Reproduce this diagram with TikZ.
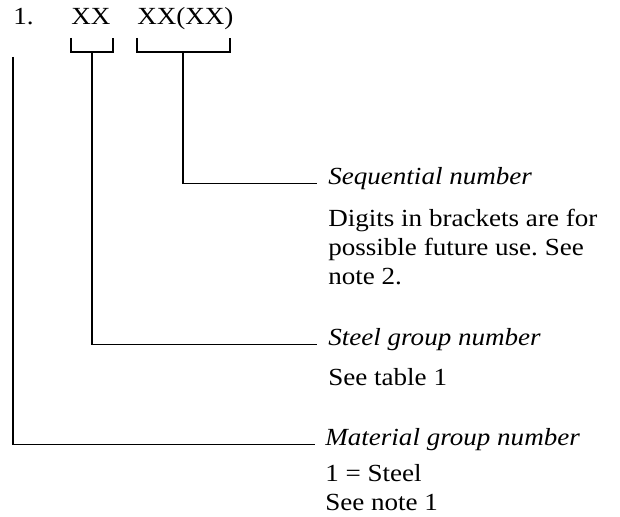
\documentclass[tikz,border=0pt]{standalone}
\usepackage{fontspec}
\setmainfont{Liberation Serif}[FakeStretch=1.1]
\frenchspacing
\newcommand{\codesize}{\fontsize{17.5}{20.6}\selectfont}
\begin{document}
\begin{tikzpicture}[x=0.025cm,y=-0.025cm,
    rule/.style={line width=0.8pt},
    code/.style={anchor=base west,inner sep=0pt,font=\codesize},
    lbl/.style={anchor=base west,inner sep=0pt,font=\codesize\itshape},
    note/.style={anchor=north west,inner sep=0pt,align=left,font=\codesize}]
    \useasboundingbox (0,0) rectangle (620,517);

    \node[code] (one)   at (13,25)  {1.};
    \node[code] (grp)   at (71,25)  {XX};
    \node[code] (seqno) at (137,25) {XX(XX)};

    \draw[rule] (71,38) |- (113,52) -- (113,38);
    \draw[rule] (137,38) |- (230,52) -- (230,38);
    \coordinate (grpstem) at (92,52);
    \coordinate (seqstem) at (183,52);
    \coordinate (onestem) at (13,57);

    \node[lbl]  (seq)       at (328,185) {Sequential number};
    \node[note] (seqnote)   at (328,209) {Digits in brackets are for\\possible future use. See\\note 2.};
    \node[lbl]  (steel)     at (328,346) {Steel group number};
    \node[note] (steelnote) at (328,368) {See table 1};
    \node[lbl]  (mat)       at (325,446) {Material group number};
    \node[note] (matnote)   at (325,464) {1 = Steel\\See note 1};

    \draw[rule] (seqstem) |- ([xshift=-8pt,yshift=1pt]seq.base west);
    \draw[rule] (grpstem) |- ([xshift=-8pt,yshift=1pt]steel.base west);
    \draw[rule] (onestem) |- ([xshift=-7pt,yshift=1pt]mat.base west);
\end{tikzpicture}
\end{document}
